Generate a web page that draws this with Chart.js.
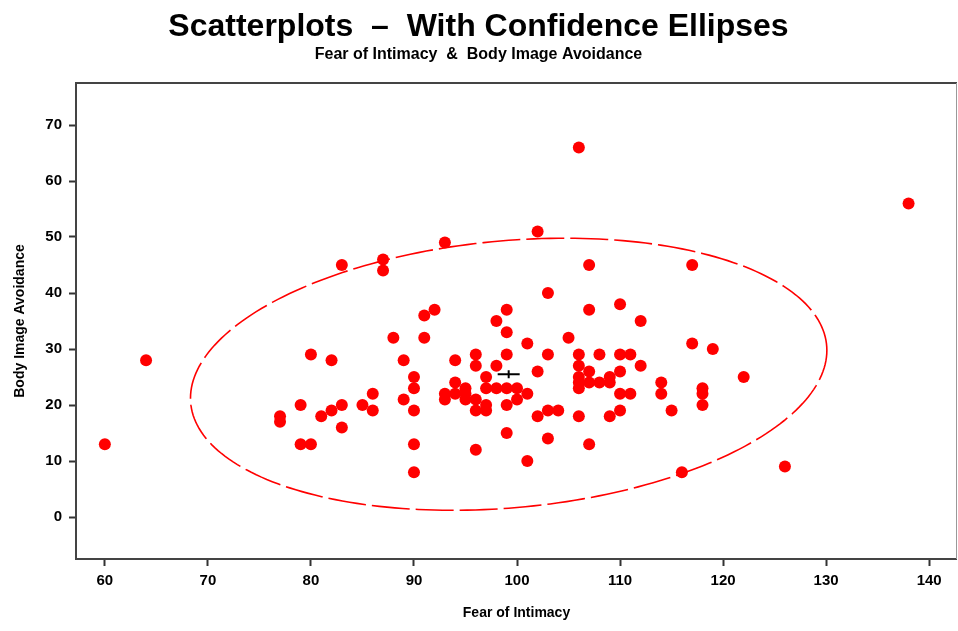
<!DOCTYPE html>
<html><head><meta charset="utf-8">
<script src="https://cdn.jsdelivr.net/npm/chart.js@4"></script>
<style>html,body{margin:0;padding:0;background:#fff}</style>
</head><body>
<canvas id="c" width="958" height="631"></canvas>
<script>
const titleText = 'Scatterplots  \u2013  With Confidence Ellipses';
const subtitleText = 'Fear of Intimacy  &  Body Image Avoidance';
const xAxisTitle = 'Fear of Intimacy';
const yAxisTitle = 'Body Image Avoidance';

const fearOfIntimacy = [60,64,77,77,79,79,80,80,81,82,82,83,83,83,85,86,86,87,87,88,89,89,90,90,90,90,90,91,91,92,93,93,93,94,94,94,95,95,95,96,96,96,96,96,97,97,97,97,98,98,98,99,99,99,99,99,99,100,100,101,101,101,102,102,102,103,103,103,103,104,105,106,106,106,106,106,106,106,107,107,107,107,107,108,108,109,109,109,110,110,110,110,110,111,111,112,112,114,114,115,116,117,117,118,118,118,119,122,126,138];
const bodyImageAvoidance = [13,28,18,17,20,13,13,29,18,28,19,20,16,45,20,22,19,46,44,32,28,21,25,23,19,13,8,36,32,37,49,22,21,28,24,22,23,22,21,29,27,21,19,12,25,23,20,19,35,27,23,37,33,29,23,20,15,23,21,31,22,10,51,26,18,40,29,19,14,19,32,66,29,27,25,24,23,18,45,37,26,24,13,29,24,25,24,18,38,29,26,22,19,29,22,35,27,24,22,19,8,45,31,23,22,20,30,25,9,56];

const xTicks = [60,70,80,90,100,110,120,130,140];
const yTicks = [0,10,20,30,40,50,60,70];
const chiSquare95 = 5.991; // chi-square(2 df) 95% quantile for the confidence ellipse

// ---- statistics derived from the data ----
const n = fearOfIntimacy.length;
const mx = fearOfIntimacy.reduce((a,b)=>a+b,0)/n;
const my = bodyImageAvoidance.reduce((a,b)=>a+b,0)/n;
let sxx=0, syy=0, sxy=0;
for (let i=0;i<n;i++){const dx=fearOfIntimacy[i]-mx, dy=bodyImageAvoidance[i]-my; sxx+=dx*dx; syy+=dy*dy; sxy+=dx*dy;}
sxx/=(n-1); syy/=(n-1); sxy/=(n-1);
const k = Math.sqrt(chiSquare95);
const L11 = Math.sqrt(sxx), L21 = sxy/L11, L22 = Math.sqrt(syy - L21*L21);
const ellipse = [];
for (let i=0;i<=240;i++){const t=2*Math.PI*i/240; ellipse.push({x: mx + k*L11*Math.cos(t), y: my + k*(L21*Math.cos(t)+L22*Math.sin(t))});}

const pts = fearOfIntimacy.map((x,i)=>({x, y: bodyImageAvoidance[i]}));
const FONT = "'Liberation Sans', Arial, Helvetica, sans-serif";

const framePlugin = {
  id: 'frame',
  afterDraw(chart){
    const {ctx, chartArea:a} = chart;
    ctx.save();
    ctx.strokeStyle = '#444'; ctx.lineWidth = 2;
    ctx.beginPath();
    ctx.moveTo(a.right, a.top); ctx.lineTo(a.left, a.top); ctx.lineTo(a.left, a.bottom); ctx.lineTo(a.right, a.bottom);
    ctx.stroke();
    ctx.strokeStyle = '#999'; ctx.lineWidth = 1;
    ctx.beginPath(); ctx.moveTo(a.right-0.5, a.top); ctx.lineTo(a.right-0.5, a.bottom); ctx.stroke();
    ctx.restore();
  }
};

new Chart(document.getElementById('c'), {
  type: 'scatter',
  data: {
    datasets: [
      {label:'data', data: pts, backgroundColor:'#ff0000', borderColor:'#ff0000', pointRadius:6, pointHoverRadius:6, borderWidth:0, order:1},
      {label:'ellipse', data: ellipse, showLine:true, pointRadius:0, borderColor:'#ff0000', borderWidth:1.6, borderDash:[38,6], fill:false, tension:0, order:3},
      {label:'mean', data:[{x:mx,y:my}], pointStyle:'line', pointRadius:11, borderColor:'#000', borderWidth:2, order:0},
      {label:'mean2', data:[{x:mx,y:my}], pointStyle:'line', rotation:90, pointRadius:4, borderColor:'#000', borderWidth:2, order:0}
    ]
  },
  options: {
    responsive:false, animation:false, devicePixelRatio:1,
    layout:{autoPadding:false, padding:{top:0,right:1,left:0,bottom:0}},
    plugins:{
      legend:{display:false}, tooltip:{enabled:false},
      title:{display:true, text:titleText, color:'#000', font:{family:FONT, size:32, weight:'bold', lineHeight:1.1}, padding:{top:10,bottom:0}},
      subtitle:{display:true, text:subtitleText, color:'#000', font:{family:FONT, size:16, weight:'bold', lineHeight:1.2}, padding:{top:0,bottom:18.6}}
    },
    scales:{
      x:{type:'linear', min:57.2, max:142.7,
        afterBuildTicks: s => { s.ticks = xTicks.map(v=>({value:v})); },
        afterFit: s => { s.height = 72; s.paddingLeft = 0; s.paddingRight = 0; },
        grid:{display:true, drawOnChartArea:false, drawTicks:true, tickLength:7, tickColor:'#333', tickWidth:2},
        border:{display:false},
        ticks:{color:'#000', font:{family:FONT, size:15, weight:'bold'}, padding:6, maxRotation:0, autoSkip:false},
        title:{display:true, text:xAxisTitle, color:'#000', font:{family:FONT, size:14, weight:'bold'}, padding:{top:4,bottom:9}}
      },
      y:{type:'linear', min:-7.5, max:77.5,
        afterBuildTicks: s => { s.ticks = yTicks.map(v=>({value:v})); },
        afterFit: s => { s.width = 76; s.paddingTop = 0; s.paddingBottom = 0; },
        grid:{display:true, drawOnChartArea:false, drawTicks:true, tickLength:7, tickColor:'#333', tickWidth:2},
        border:{display:false},
        ticks:{color:'#000', font:{family:FONT, size:15, weight:'bold'}, padding:7, autoSkip:false},
        title:{display:true, text:yAxisTitle, color:'#000', font:{family:FONT, size:14, weight:'bold'}, padding:{top:12,bottom:4}}
      }
    }
  },
  plugins:[framePlugin]
});
</script>
</body></html>
